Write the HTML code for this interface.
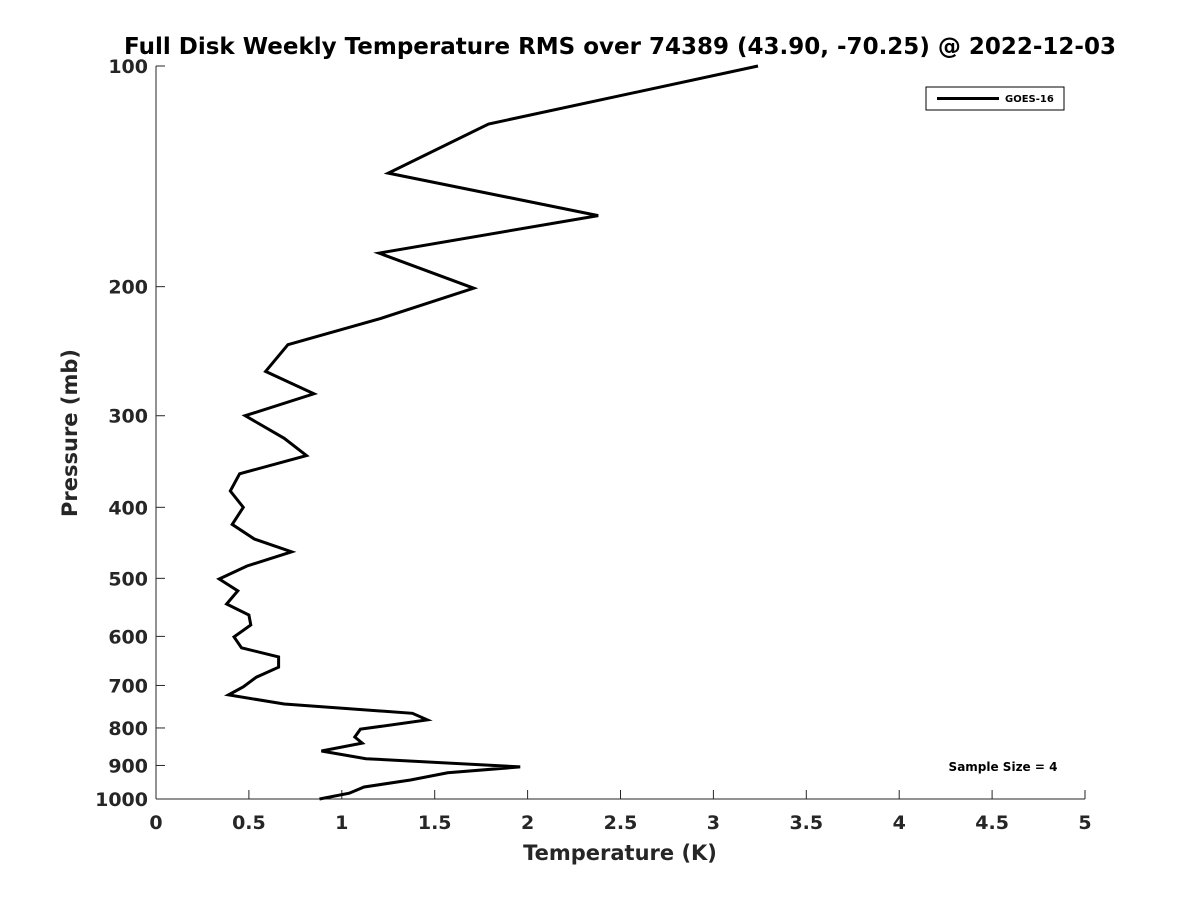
<!DOCTYPE html>
<html><head><meta charset="utf-8"><style>
body{margin:0;background:#fff;}
svg text{font-family:"DejaVu Sans","Liberation Sans",sans-serif;font-weight:bold;fill:#262626;}
</style></head><body>
<svg id="chart" width="1200" height="900" xmlns="http://www.w3.org/2000/svg">
<rect width="1200" height="900" fill="#fff"/>
<text x="620" y="54" font-size="23" text-anchor="middle" style="fill:#000">Full Disk Weekly Temperature RMS over 74389 (43.90, -70.25) @ 2022-12-03</text>
<g id="axes"></g>
<g id="series"></g>
<g>
<rect x="926" y="87" width="138" height="23" fill="#fff" stroke="#000" stroke-width="1"/>
<line x1="937" y1="98.5" x2="999" y2="98.5" stroke="#000" stroke-width="3"/>
<text x="1005" y="102" font-size="10" style="fill:#000">GOES-16</text>
</g>
<text x="1003" y="771" font-size="12" text-anchor="middle" style="fill:#000">Sample Size = 4</text>
<text x="620" y="860" font-size="21" text-anchor="middle">Temperature (K)</text>
<text transform="translate(77,433) rotate(-90)" font-size="21" text-anchor="middle">Pressure (mb)</text>
</svg>
<script>
const xTicks=[0,0.5,1,1.5,2,2.5,3,3.5,4,4.5,5];
const xTickLabels=["0","0.5","1","1.5","2","2.5","3","3.5","4","4.5","5"];
const yTicks=[100,200,300,400,500,600,700,800,900,1000];
const yTickLabels=["100","200","300","400","500","600","700","800","900","1000"];
const pressures=[100,120,140,160,180,201,221,240,261,280,300,322,340,360,380,400,422,442,460,481,501,520,542,561,579,601,622,640,661,682,703,721,742,764,780,803,823,839,860,881,904,921,942,963,982,1000];
const rmsValues=[3.24,1.79,1.25,2.38,1.20,1.71,1.21,0.71,0.59,0.85,0.48,0.69,0.81,0.45,0.40,0.47,0.41,0.53,0.73,0.49,0.34,0.44,0.38,0.50,0.51,0.42,0.46,0.66,0.66,0.54,0.47,0.39,0.69,1.38,1.46,1.10,1.07,1.11,0.89,1.13,1.96,1.57,1.37,1.12,1.04,0.88];
const X0=156,X1=1085,Y0=66,Y1=799;
const xs=v=>X0+(v-0)/(5-0)*(X1-X0);
const ys=p=>Y0+(Math.log10(p)-2)/(3-2)*(Y1-Y0);
const NS="http://www.w3.org/2000/svg";
const axes=document.getElementById('axes');
function mk(tag,attrs,parent){const e=document.createElementNS(NS,tag);for(const k in attrs)e.setAttribute(k,attrs[k]);parent.appendChild(e);return e;}
const xl=mk('line',{x1:X0,y1:Y1,x2:X1,y2:Y1,stroke:'#262626','stroke-width':1},axes);


const yl=mk('line',{x1:X0,y1:Y0,x2:X0,y2:Y1,stroke:'#262626','stroke-width':1},axes);


xTicks.forEach((v,i)=>{
  const x=xs(v);
  const t=mk('line',{x1:x,y1:Y1,x2:x,y2:Y1-9,stroke:'#262626'},axes);
  
  
  const l=mk('text',{x:x,y:829,'font-size':19,'text-anchor':'middle'},axes);
  l.textContent=xTickLabels[i];
  
  
});
yTicks.forEach((p,i)=>{
  const y=ys(p);
  const t=mk('line',{x1:X0,y1:y,x2:X0+9,y2:y,stroke:'#262626'},axes);
  
  
  const l=mk('text',{x:148,y:y+7,'font-size':19,'text-anchor':'end'},axes);
  l.textContent=yTickLabels[i];
  
  
});
const pts=pressures.map((p,i)=>xs(rmsValues[i]).toFixed(1)+','+ys(p).toFixed(1)).join(' ');
const line=mk('polyline',{points:pts,fill:'none',stroke:'#000','stroke-width':3,'stroke-linejoin':'miter'},document.getElementById('series'));


</script>
</body></html>
